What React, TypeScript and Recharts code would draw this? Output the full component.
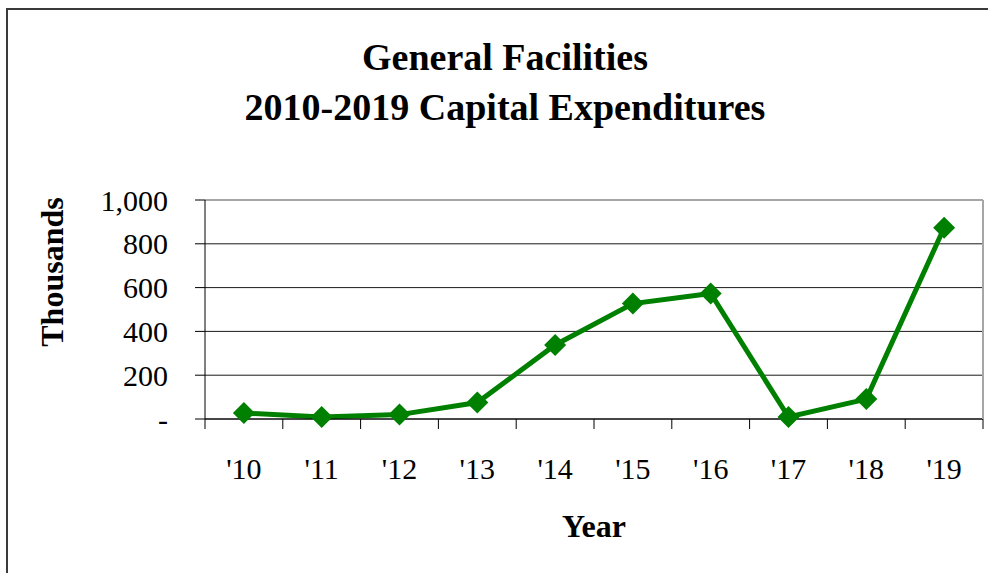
import React from "react";
import {
  LineChart,
  Line,
  XAxis,
  YAxis,
  CartesianGrid,
  ReferenceLine,
} from "recharts";

const years = ["'10", "'11", "'12", "'13", "'14", "'15", "'16", "'17", "'18", "'19"];
const capex = [27, 9, 20, 75, 338, 527, 573, 9, 91, 873];
const yTicks = [0, 200, 400, 600, 800, 1000];

const data = years.map((year, i) => ({ year, value: capex[i] }));

const FONT = '"Liberation Serif", "Times New Roman", serif';
const GREEN = "#008000";

const Diamond = (props: any) => {
  const { cx, cy } = props;
  if (cx == null || cy == null) return null;
  const r = 11;
  return (
    <polygon
      points={`${cx},${cy - r} ${cx + r},${cy} ${cx},${cy + r} ${cx - r},${cy}`}
      fill={GREEN}
    />
  );
};

// excel-style ticks: tick marks sit between categories, labels in the middle
const YearTick = (props: any) => {
  const { x, y, payload, index, visibleTicksCount } = props;
  const half = payload?.offset ?? 0;
  const last = index === visibleTicksCount - 1;
  return (
    <g>
      <line x1={x - half} x2={x - half} y1={y} y2={y + 10} stroke="#000" />
      {last && <line x1={x + half} x2={x + half} y1={y} y2={y + 10} stroke="#000" />}
      <text
        x={x}
        y={y + 60}
        textAnchor="middle"
        fontFamily={FONT}
        fontSize={30}
        fill="#000"
      >
        {payload.value}
      </text>
    </g>
  );
};

const fmtY = (v: number) => (v === 0 ? "-" : v.toLocaleString("en-US"));

export default function App() {
  return (
    <div
      style={{
        position: "absolute",
        left: 0,
        top: 0,
        width: 988,
        height: 573,
        overflow: "hidden",
        background: "#fff",
      }}
    >
      <div
        style={{
          position: "absolute",
          left: 6,
          top: 8,
          width: 1200,
          height: 800,
          border: "2px solid #3a3a3a",
        }}
      />
      <LineChart
        width={988}
        height={573}
        data={data}
        margin={{ top: 200, right: 0, bottom: 0, left: 0 }}
        style={{ position: "absolute", left: 0, top: 0 }}
      >
        <CartesianGrid vertical={false} stroke="#1a1a1a" />
        <XAxis
          dataKey="year"
          scale="band"
          height={154}
          tickSize={0}
          tickMargin={0}
          tickLine={false}
          axisLine={{ stroke: "#000" }}
          tick={YearTick}
          interval={0}
        />
        <YAxis
          width={205}
          domain={[0, 1000]}
          ticks={yTicks}
          tickFormatter={fmtY}
          tickSize={10}
          tickMargin={27}
          tickLine={{ stroke: "#000" }}
          axisLine={{ stroke: "#000" }}
          tick={{ fill: "#000", fontSize: 30, fontFamily: FONT }}
        />
        <YAxis
          yAxisId="r"
          orientation="right"
          width={5}
          domain={[0, 1000]}
          ticks={[0]}
          tick={false}
          tickLine={false}
          axisLine={{ stroke: "#a6a6a6", strokeWidth: 2 }}
        />
        <ReferenceLine y={1000} stroke="#a6a6a6" strokeWidth={2} />
        <Line
          type="linear"
          dataKey="value"
          stroke={GREEN}
          strokeWidth={5}
          dot={<Diamond />}
          activeDot={false}
          isAnimationActive={false}
        />
      </LineChart>
      <svg
        width={988}
        height={573}
        style={{ position: "absolute", left: 0, top: 0, pointerEvents: "none" }}
      >
        <g fontFamily={FONT} fontWeight="bold" fill="#000" textAnchor="middle">
          <text x={505} y={70} fontSize={38}>
            General Facilities
          </text>
          <text x={505} y={120} fontSize={38}>
            2010-2019 Capital Expenditures
          </text>
          <text x={594} y={537} fontSize={32}>
            Year
          </text>
          <text transform="translate(63,272) rotate(-90)" fontSize={32}>
            Thousands
          </text>
        </g>
      </svg>
    </div>
  );
}
